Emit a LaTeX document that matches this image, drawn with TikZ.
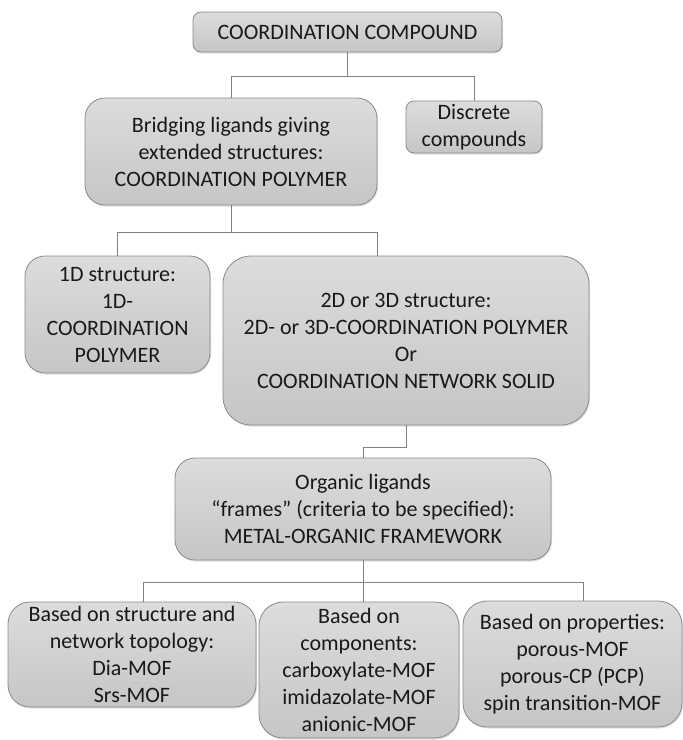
\documentclass[tikz,border=0pt]{standalone}
\usepackage{fontspec}
\setmainfont{Carlito}
\usetikzlibrary{shadows}
\definecolor{boxline}{HTML}{8A8A8A}
\definecolor{boxtop}{HTML}{DCDCDC}
\definecolor{boxbot}{HTML}{C6C6C6}
\definecolor{linkgray}{HTML}{7F7F7F}
\begin{document}
\begin{tikzpicture}[x=1pt,y=-1pt,
  box/.style={draw=boxline,line width=0.8pt,top color=boxtop,bottom color=boxbot,
    inner sep=0pt,align=center,text=black!90,
    drop shadow={shadow xshift=1pt,shadow yshift=-1.5pt,opacity=0.25},
    font=\fontsize{22}{27}\selectfont},
  link/.style={draw=linkgray,line width=0.8pt}]
  \useasboundingbox (0,0) rectangle (683,740);
  % level 0
  \node[box,rounded corners=8pt,minimum width=309pt,minimum height=40pt] (compound) at (347.5,32) {COORDINATION COMPOUND};
  % level 1
  \node[box,rounded corners=20pt,minimum width=292pt,minimum height=107pt] (bridge) at (231,151.5) {Bridging ligands giving\\extended structures:\\COORDINATION POLYMER};
  \node[box,rounded corners=8pt,minimum width=136pt,minimum height=52pt] (discrete) at (474,127) {Discrete\\compounds};
  % level 2
  \node[box,rounded corners=20pt,minimum width=185pt,minimum height=117pt] (oned) at (117.5,314.5) {1D structure:\\1D-\\COORDINATION\\POLYMER};
  \node[box,rounded corners=28pt,minimum width=366pt,minimum height=169pt] (twod) at (406,340.5) {2D or 3D structure:\\2D- or 3D-COORDINATION POLYMER\\Or\\COORDINATION NETWORK SOLID};
  % level 3
  \node[box,rounded corners=20pt,minimum width=376pt,minimum height=102pt] (mof) at (363,509) {Organic ligands\\“frames” (criteria to be specified):\\METAL-ORGANIC FRAMEWORK};
  % level 4
  \node[box,rounded corners=22pt,minimum width=248pt,minimum height=105pt] (bystruct) at (132,654.5) {Based on structure and\\network topology:\\Dia-MOF\\Srs-MOF};
  \node[box,rounded corners=24pt,minimum width=200pt,minimum height=136pt] (bycomp) at (359,670) {Based on\\components:\\carboxylate-MOF\\imidazolate-MOF\\anionic-MOF};
  \node[box,rounded corners=24pt,minimum width=219pt,minimum height=126pt] (byprop) at (572.5,664) {Based on properties:\\porous-MOF\\porous-CP (PCP)\\spin transition-MOF};
  % connectors
  \draw[link] (compound.south) -- ++(0,24) -| (bridge.north);
  \draw[link] (compound.south) ++(0,24) -| (discrete.north);
  \draw[link] (bridge.south) -- ++(0,27) -| (oned.north);
  \draw[link] (bridge.south) ++(0,27) -| (bridge.east |- twod.north);
  \draw[link] (twod.south) -- ++(0,22) -| (mof.north);
  \draw[link] (mof.south) -- ++(0,22) -| ([xshift=11pt]bystruct.north);
  \draw[link] (mof.south) -- (mof.south |- bycomp.north);
  \draw[link] (mof.south) ++(0,22) -| ([xshift=11pt]byprop.north);
\end{tikzpicture}
\end{document}
